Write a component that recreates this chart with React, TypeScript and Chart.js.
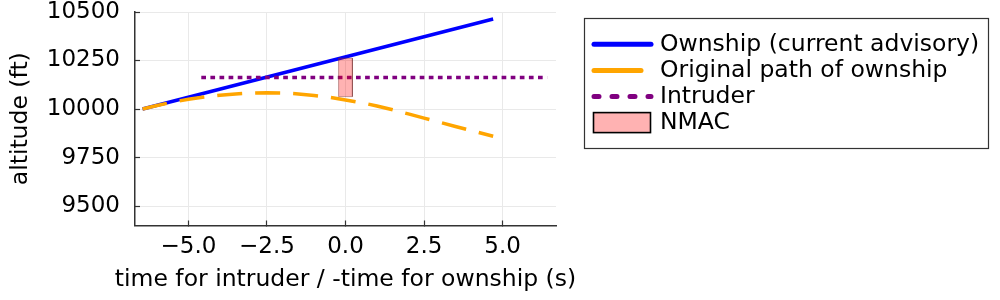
import React, { useEffect, useRef } from "react";
import { Chart, registerables } from "chart.js";

Chart.register(...registerables);

// ---- data ----
const ownshipT = [-6.46, 4.7];
const ownshipAlt = [10000, 10464];

const originalT = [-6.46, -6.0, -5.5, -5.0, -4.5, -4.0, -3.5, -3.0, -2.5, -2.0, -1.5, -1.0, -0.5, 0.0, 0.5, 1.0, 1.5, 2.0, 2.5, 3.0, 3.5, 4.0, 4.7];
const originalAlt = [10000, 10018, 10036, 10050, 10062, 10071, 10078, 10082, 10084, 10083, 10078, 10070, 10060, 10047, 10033, 10016, 9996, 9975, 9953, 9932, 9910, 9889, 9860];

const intruderT = [-4.59, 6.42];
const intruderAlt = [10163, 10163];

const nmacT = [-0.22, 0.22];
const nmacAlt = [10064, 10262];

const seriesLabels = ["Ownship (current advisory)", "Original path of ownship", "Intruder", "NMAC"];

const xTicks = [-5, -2.5, 0, 2.5, 5];
const xTickLabels = ["\u22125.0", "\u22122.5", "0.0", "2.5", "5.0"];
const yTicks = [9500, 9750, 10000, 10250, 10500];
const yTickLabels = ["9500", "9750", "10000", "10250", "10500"];

const xTitle = "time for intruder / -time for ownship (s)";
const yTitle = "altitude (ft)";

// ---- styles ----
const FONT = "'DejaVu Sans'";
const BLUE = "#0000ff";
const ORANGE = "#ffa500";
const PURPLE = "#800080";
const NMAC_FILL = "rgba(255,0,0,0.3)";
const NMAC_BORDER = "rgba(120,50,50,0.45)";

// x-axis title drawn without Chart.js's width squeezing
const xTitlePlugin = {
  id: "xTitleFree",
  afterDraw(chart: any) {
    const ctx = chart.ctx;
    const a = chart.chartArea;
    ctx.save();
    ctx.font = `23.5px ${FONT}`;
    ctx.fillStyle = "#000";
    ctx.textAlign = "center";
    ctx.textBaseline = "middle";
    ctx.fillText(xTitle, (a.left + a.right) / 2, 280);
    ctx.restore();
  },
};

const legendPlugin = {
  id: "boxLegend",
  afterDraw(chart: any) {
    const ctx = chart.ctx;
    ctx.save();
    ctx.strokeStyle = "#333";
    ctx.lineWidth = 1.2;
    ctx.strokeRect(584.5, 18.5, 404, 130);
    const y0 = 44.3;
    const dy = 26.1;
    const textX = 660;
    ctx.font = `23.5px ${FONT}`;
    ctx.textBaseline = "middle";
    ctx.textAlign = "left";
    ctx.fillStyle = "#000";
    seriesLabels.forEach((lab, i) => {
      const y = y0 + i * dy;
      if (i < 3) {
        ctx.beginPath();
        ctx.lineWidth = 5;
        ctx.lineCap = "round";
        ctx.strokeStyle = [BLUE, ORANGE, PURPLE][i];
        ctx.setLineDash(i === 2 ? [5, 13] : []);
        ctx.moveTo(594, y);
        ctx.lineTo(i === 1 ? 641 : 651, y);
        ctx.stroke();
        ctx.setLineDash([]);
      } else {
        ctx.fillStyle = NMAC_FILL;
        ctx.fillRect(593.5, y - 10, 57, 20);
        ctx.strokeStyle = "#000";
        ctx.lineWidth = 1.6;
        ctx.strokeRect(593.5, y - 10, 57, 20);
      }
      ctx.fillStyle = "#000";
      ctx.fillText(lab, textX, y + 0.5);
    });
    ctx.restore();
  },
};

export default function App() {
  const ref = useRef<HTMLCanvasElement | null>(null);
  useEffect(() => {
    if (!ref.current) return;
    Chart.defaults.font.family = FONT;
    const nmacPts = [
      { x: nmacT[0], y: nmacAlt[0] },
      { x: nmacT[0], y: nmacAlt[1] },
      { x: nmacT[1], y: nmacAlt[1] },
      { x: nmacT[1], y: nmacAlt[0] },
      { x: nmacT[0], y: nmacAlt[0] },
    ];
    const chart = new Chart(ref.current, {
      type: "line",
      data: {
        datasets: [
          {
            label: seriesLabels[0],
            data: ownshipT.map((t, i) => ({ x: t, y: ownshipAlt[i] })),
            borderColor: BLUE,
            borderWidth: 3.5,
            pointRadius: 0,
            fill: false,
            order: 3,
          },
          {
            label: seriesLabels[1],
            data: originalT.map((t, i) => ({ x: t, y: originalAlt[i] })),
            borderColor: ORANGE,
            borderWidth: 3.5,
            borderDash: [25, 13],
            pointRadius: 0,
            fill: false,
            order: 2,
          },
          {
            label: seriesLabels[2],
            data: intruderT.map((t, i) => ({ x: t, y: intruderAlt[i] })),
            borderColor: PURPLE,
            borderWidth: 3.5,
            borderDash: [4.7, 4.4],
            pointRadius: 0,
            fill: false,
            order: 1,
          },
          {
            label: seriesLabels[3],
            data: nmacPts,
            borderColor: NMAC_BORDER,
            borderWidth: 1,
            backgroundColor: NMAC_FILL,
            pointRadius: 0,
            fill: "shape",
            order: 0,
          },
        ],
      } as any,
      options: {
        responsive: false,
        animation: false,
        events: [],
        layout: { padding: { left: 0, top: 12, right: 444, bottom: 0 } },
        plugins: { legend: { display: false }, tooltip: { enabled: false } },
        scales: {
          x: {
            type: "linear",
            min: -6.7,
            max: 6.7,
            afterBuildTicks: (s: any) => {
              s.ticks = xTicks.map((v) => ({ value: v }));
            },
            afterFit: (s: any) => {
              s.height = 74.5;
              s.paddingLeft = 0;
              s.paddingRight = 0;
            },
            grid: { color: "#e9e9e9", lineWidth: 1, drawTicks: true, tickLength: -5, tickColor: "#333", tickWidth: 1.2 },
            border: { color: "#333", width: 1.5 },
            ticks: {
              autoSkip: false,
              maxRotation: 0,
              padding: 14.7,
              color: "#000",
              font: { size: 23, lineHeight: 1 },
              callback: (v: any) => {
                const i = xTicks.indexOf(Number(v));
                return i >= 0 ? xTickLabels[i] : "";
              },
            },
            title: { display: false },
          },
          y: {
            type: "linear",
            min: 9400,
            max: 10500,
            afterBuildTicks: (s: any) => {
              s.ticks = yTicks.map((v) => ({ value: v }));
            },
            afterFit: (s: any) => {
              s.width = 135;
              s.paddingTop = 0;
              s.paddingBottom = 0;
            },
            grid: { color: "#e9e9e9", lineWidth: 1, drawTicks: true, tickLength: -5, tickColor: "#333", tickWidth: 1.2 },
            border: { color: "#333", width: 1.5 },
            ticks: {
              autoSkip: false,
              padding: 20,
              color: "#000",
              font: { size: 23, lineHeight: 1 },
              callback: (v: any) => {
                const i = yTicks.indexOf(Number(v));
                return i >= 0 ? yTickLabels[i] : "";
              },
            },
            title: {
              display: true,
              text: yTitle,
              color: "#000",
              font: { size: 23.5, lineHeight: 1 },
              padding: { top: 9, bottom: 0 },
            },
          },
        },
      } as any,
      plugins: [legendPlugin, xTitlePlugin],
    });
    return () => chart.destroy();
  }, []);
  return (
    <div style={{ position: "fixed", left: 0, top: 0, width: 1000, height: 300, background: "#fff" }}>
      <canvas ref={ref} width={1000} height={300} style={{ display: "block" }} />
    </div>
  );
}
